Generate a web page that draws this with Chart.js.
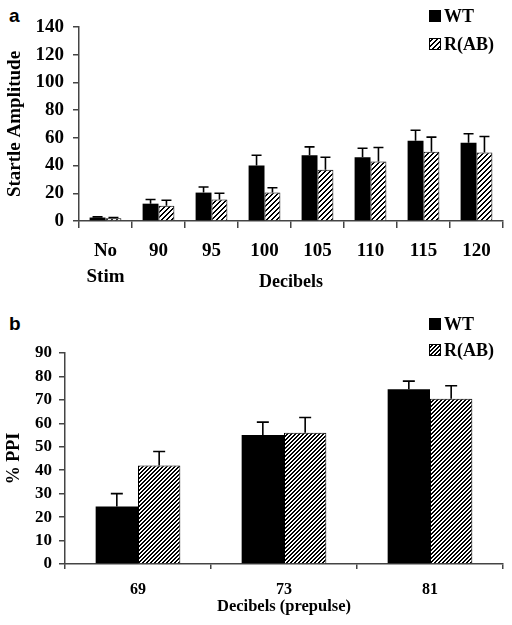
<!DOCTYPE html>
<html>
<head>
<meta charset="utf-8">
<script src="https://cdn.jsdelivr.net/npm/chart.js@4.4.0/dist/chart.umd.min.js"></script>
<style>
body { margin: 0; background: #fff; width: 512px; height: 625px; position: relative; overflow: hidden; }
.panel { position: absolute; left: 0; width: 512px; }
#wrapA { top: 0; height: 300px; }
#wrapB { top: 300px; height: 325px; }
.tag { position: absolute; left: 9px; font: bold 19px "Liberation Sans", Arial, sans-serif; color: #000; }
</style>
</head>
<body>
<div class="tag" style="top:5px">a</div>
<div class="tag" style="top:313px">b</div>
<div class="panel" id="wrapA"><canvas id="chartA"></canvas></div>
<div class="panel" id="wrapB"><canvas id="chartB"></canvas></div>
<script>
// --- データ (a) 驚愕反応 ---
var startleLabels = [['No', 'Stim'], '90', '95', '100', '105', '110', '115', '120'];
var startleWT = [2.5, 12.5, 20.5, 40, 47.5, 46, 58, 56.5];
var startleWTErr = [0.5, 3, 4, 7.5, 6, 6.5, 7.5, 6.5];
var startleRAB = [2, 11, 15.5, 20.5, 37, 43, 50, 49.5];
var startleRABErr = [0.5, 4, 4.5, 3.5, 9, 10, 10.5, 11.5];
var startleTicks = [0, 20, 40, 60, 80, 100, 120, 140];

// --- データ (b) PPI ---
var ppiLabels = ['69', '73', '81'];
var ppiWT = [24.5, 55, 74.5];
var ppiWTErr = [5.5, 5.5, 3.5];
var ppiRAB = [42, 56, 70.5];
var ppiRABErr = [6, 6.5, 5.5];
var ppiTicks = [0, 10, 20, 30, 40, 50, 60, 70, 80, 90];

var serif = '"Liberation Serif", "Times New Roman", serif';

// 斜線パターン (ピクセル単位でくっきり描く)
function makeHatch(n, dark) {
    var c = document.createElement('canvas');
    c.width = n; c.height = n;
    var g = c.getContext('2d');
    var img = g.createImageData(n, n);
    for (var y = 0; y < n; y++) {
        for (var x = 0; x < n; x++) {
            var k = (y * n + x) * 4;
            var v = ((x + y) % n) < dark ? 0 : 255;
            img.data[k] = v; img.data[k + 1] = v; img.data[k + 2] = v; img.data[k + 3] = 255;
        }
    }
    g.putImageData(img, 0, 0);
    return document.createElement('canvas').getContext('2d').createPattern(c, 'repeat');
}

// エラーバー (上方向のみ)
var errorBars = {
    id: 'errorBars',
    afterDatasetsDraw: function (chart, args, opts) {
        var ctx = chart.ctx;
        var y = chart.scales.y;
        chart.data.datasets.forEach(function (ds, i) {
            var meta = chart.getDatasetMeta(i);
            meta.data.forEach(function (bar, j) {
                var top = y.getPixelForValue(ds.data[j] + ds.errors[j]);
                ctx.save();
                ctx.strokeStyle = '#000';
                ctx.lineWidth = 1.6;
                ctx.beginPath();
                ctx.moveTo(bar.x, bar.y);
                ctx.lineTo(bar.x, top);
                ctx.moveTo(bar.x - opts.cap / 2, top);
                ctx.lineTo(bar.x + opts.cap / 2, top);
                ctx.stroke();
                ctx.restore();
            });
        });
    }
};

// 凡例 (右上)
var cornerLegend = {
    id: 'cornerLegend',
    afterDraw: function (chart, args, opts) {
        var ctx = chart.ctx;
        ctx.save();
        chart.data.datasets.forEach(function (ds, i) {
            var cy = opts.y + i * opts.gap;
            ctx.fillStyle = ds.backgroundColor;
            ctx.fillRect(opts.x, cy - 6, 12, 12);
            ctx.strokeStyle = '#000';
            ctx.lineWidth = 1;
            ctx.strokeRect(opts.x + 0.5, cy - 5.5, 11, 11);
            ctx.fillStyle = '#000';
            ctx.font = 'bold 18px ' + serif;
            ctx.textBaseline = 'middle';
            ctx.fillText(ds.label, opts.x + 15, cy + 1);
        });
        ctx.restore();
    }
};

function buildChart(id, labels, wt, wtErr, rab, rabErr, ticks, cfg) {
    var ctx = document.getElementById(id).getContext('2d');
    return new Chart(ctx, {
        type: 'bar',
        data: {
            labels: labels,
            datasets: [{
                label: 'WT',
                data: wt,
                errors: wtErr,
                backgroundColor: '#000',
                borderColor: '#000',
                borderWidth: 0
            }, {
                label: 'R(AB)',
                data: rab,
                errors: rabErr,
                backgroundColor: cfg.hatch,
                borderColor: '#000',
                borderWidth: 1
            }]
        },
        options: {
            responsive: true,
            maintainAspectRatio: false,
            animation: false,
            events: [],
            layout: { padding: cfg.padding },
            plugins: {
                legend: { display: false },
                tooltip: { enabled: false },
                errorBars: { cap: cfg.cap },
                cornerLegend: cfg.legend
            },
            datasets: {
                bar: { categoryPercentage: cfg.catPct, barPercentage: 1.0 }
            },
            scales: {
                x: {
                    grid: { offset: true, drawOnChartArea: false, drawTicks: true, tickLength: cfg.xTick, color: '#444', lineWidth: 1.5 },
                    border: { display: true, color: '#444', width: 1.5 },
                    ticks: { color: '#000', padding: cfg.xPad, font: { family: serif, weight: 'bold', size: cfg.xFont, lineHeight: cfg.xLine } },
                    title: { display: true, text: cfg.xTitle, color: '#000', padding: { top: 0, bottom: cfg.xTitlePad }, font: { family: serif, weight: 'bold', size: cfg.xTitleFont } },
                    afterFit: function (s) { s.height = cfg.xHeight; }
                },
                y: {
                    min: 0,
                    max: ticks[ticks.length - 1],
                    afterBuildTicks: function (s) { s.ticks = ticks.map(function (v) { return { value: v }; }); },
                    grid: { drawOnChartArea: false, drawTicks: true, tickLength: 6, color: '#444', lineWidth: 1.5 },
                    border: { display: true, color: '#444', width: 1.5 },
                    ticks: { color: '#000', padding: cfg.yPad, font: { family: serif, weight: 'bold', size: cfg.yFont } },
                    title: { display: true, text: cfg.yTitle, color: '#000', padding: { top: cfg.yTitlePad, bottom: 0 }, font: { family: serif, weight: 'bold', size: cfg.yTitleFont } },
                    afterFit: function (s) { s.width = cfg.yWidth; }
                }
            }
        },
        plugins: [errorBars, cornerLegend]
    });
}

buildChart('chartA', startleLabels, startleWT, startleWTErr, startleRAB, startleRABErr, startleTicks, {
    padding: { top: 27, right: 9, left: 4, bottom: 4 },
    xHeight: 75, yWidth: 75,
    catPct: 0.6, cap: 10, hatch: makeHatch(5, 2),
    xTick: 7, xPad: 11, xFont: 19, xLine: 1.32, yFont: 19, yPad: 9,
    xTitle: 'Decibels', xTitlePad: 3, xTitleFont: 18,
    yTitle: 'Startle Amplitude', yTitlePad: 0, yTitleFont: 19,
    legend: { x: 429, y: 16, gap: 28 }
});

buildChart('chartB', ppiLabels, ppiWT, ppiWTErr, ppiRAB, ppiRABErr, ppiTicks, {
    padding: { top: 53, right: 9, left: 4, bottom: 4 },
    xHeight: 57, yWidth: 61,
    catPct: 0.58, cap: 12, hatch: makeHatch(4, 2),
    xTick: 5, xPad: 11, xFont: 16, xLine: 1.2, yFont: 17, yPad: 7,
    xTitle: 'Decibels (prepulse)', xTitlePad: 4, xTitleFont: 16.5,
    yTitle: '% PPI', yTitlePad: 0, yTitleFont: 18,
    legend: { x: 429, y: 24, gap: 26 }
});
</script>
</body>
</html>
